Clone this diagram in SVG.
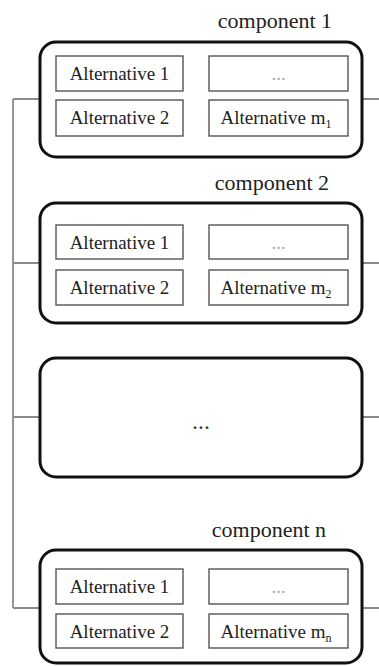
<svg xmlns="http://www.w3.org/2000/svg" width="379" height="666" viewBox="0 0 379 666">
<style>
.outer{fill:#fff;stroke:#111;stroke-width:3}
.inner{fill:#fff;stroke:#555;stroke-width:1.4}
.conn{fill:none;stroke:#8a8a8a;stroke-width:1.8}
text{font-family:"Liberation Serif","Times New Roman",Times,"DejaVu Serif",serif}
.alt{font-size:19px;fill:#222;text-anchor:middle}
.lbl{font-size:22px;fill:#222;text-anchor:middle}
.dots{font-size:19px;fill:#aaa;text-anchor:middle}
.bigdots{font-size:24px;fill:#333;text-anchor:middle}
</style>
<rect width="379" height="666" fill="#fff"/>
<g id="connectors">
<path class="conn" d="M13,99 V608"/>
<path class="conn" d="M13,99 H40 M362,99 H379"/>
<path class="conn" d="M13,263 H40 M362,263 H379"/>
<path class="conn" d="M13,417 H40 M362,417 H379"/>
<path class="conn" d="M13,608 H40 M362,608 H379"/>
</g>
<g id="component1">
<text class="lbl" x="275" y="28">component 1</text>
<rect class="outer" x="40" y="42" width="322" height="115" rx="16"/>
<rect class="inner" x="56" y="56" width="127" height="35"/>
<text class="alt" x="119.5" y="80">Alternative 1</text>
<rect class="inner" x="56" y="100" width="127" height="36"/>
<text class="alt" x="119.5" y="124">Alternative 2</text>
<rect class="inner" x="209" y="56" width="139" height="35"/>
<text class="dots" x="278.5" y="80">...</text>
<rect class="inner" x="209" y="100" width="139" height="36"/>
<text class="alt" x="276" y="124">Alternative m<tspan font-size="12" dy="4">1</tspan></text>
</g>
<g id="component2">
<text class="lbl" x="272" y="190">component 2</text>
<rect class="outer" x="40" y="203" width="322" height="120" rx="16"/>
<rect class="inner" x="56" y="225" width="127" height="34"/>
<text class="alt" x="119.5" y="249">Alternative 1</text>
<rect class="inner" x="56" y="270" width="127" height="35"/>
<text class="alt" x="119.5" y="294">Alternative 2</text>
<rect class="inner" x="209" y="225" width="139" height="34"/>
<text class="dots" x="278.5" y="249">...</text>
<rect class="inner" x="209" y="270" width="139" height="35"/>
<text class="alt" x="276" y="294">Alternative m<tspan font-size="12" dy="4">2</tspan></text>
</g>
<g id="componentEllipsis">
<rect class="outer" x="40" y="358" width="322" height="119" rx="16"/>
<text class="bigdots" x="201" y="429">...</text>
</g>
<g id="componentN">
<text class="lbl" x="269" y="537">component n</text>
<rect class="outer" x="40" y="550" width="322" height="113" rx="16"/>
<rect class="inner" x="56" y="569" width="127" height="35"/>
<text class="alt" x="119.5" y="593">Alternative 1</text>
<rect class="inner" x="56" y="614" width="127" height="34"/>
<text class="alt" x="119.5" y="638">Alternative 2</text>
<rect class="inner" x="209" y="569" width="139" height="35"/>
<text class="dots" x="278.5" y="593">...</text>
<rect class="inner" x="209" y="614" width="139" height="34"/>
<text class="alt" x="276" y="638">Alternative m<tspan font-size="12" dy="4">n</tspan></text>
</g>
</svg>
